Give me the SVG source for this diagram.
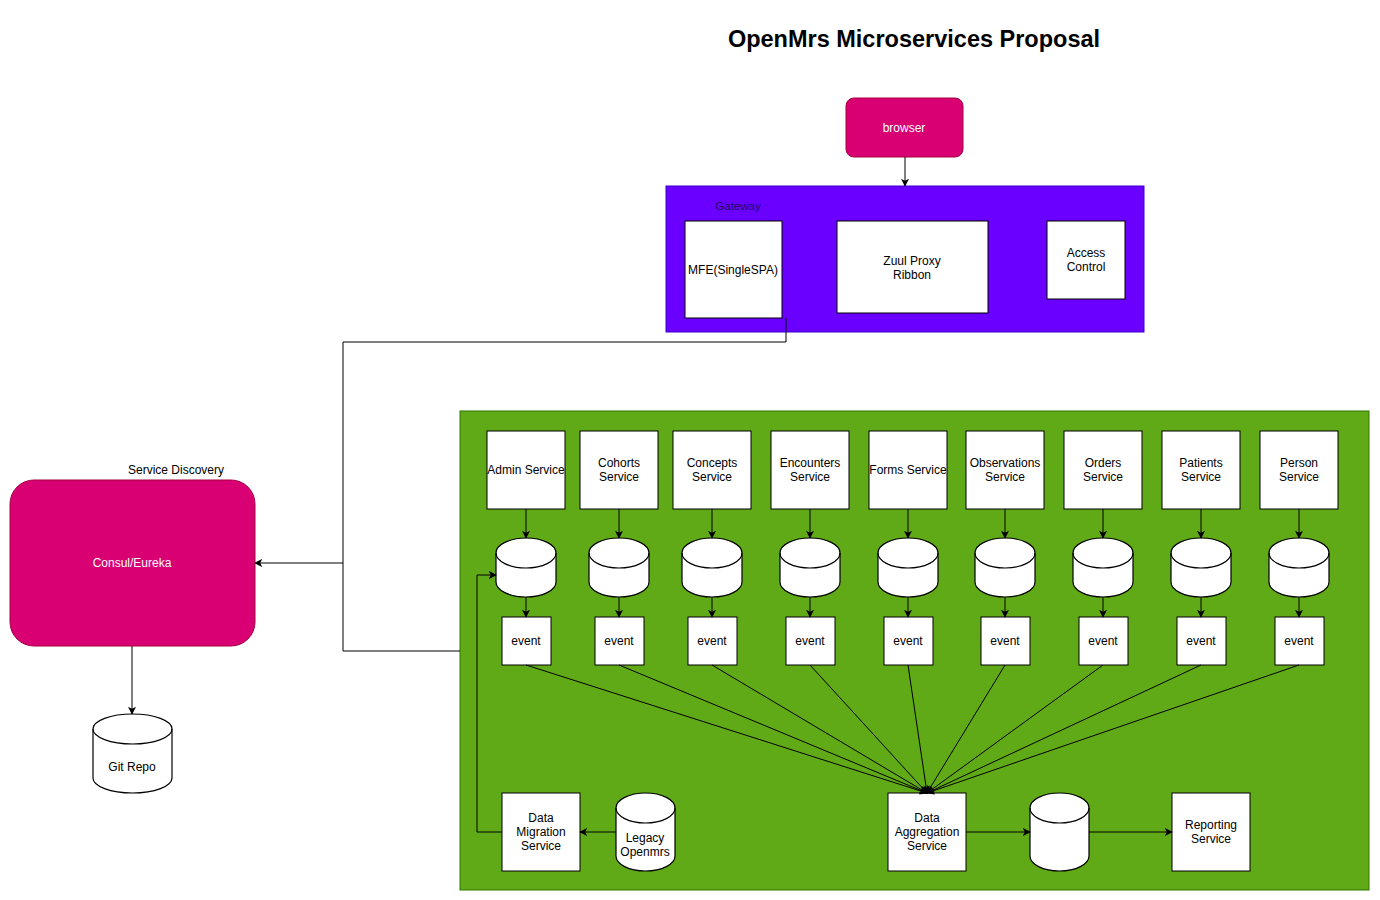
<svg xmlns="http://www.w3.org/2000/svg" width="1380" height="900" viewBox="0 0 1380 900">
<defs>
<marker id="arr" viewBox="0 0 10 10" refX="9" refY="5" markerWidth="8" markerHeight="8" markerUnits="userSpaceOnUse" orient="auto">
<path d="M0,0 L10,5 L0,10 L2.5,5 Z" fill="#000"/>
</marker>
<style>
text{font-family:"Liberation Sans",Arial,sans-serif;font-size:12px;fill:#000;text-anchor:middle;dominant-baseline:central}
.w{fill:#fff}
.box{fill:#fff;stroke:#000;stroke-width:1}
.cyl{fill:#fff;stroke:#000;stroke-width:1.2}
.arc{fill:none;stroke:#000;stroke-width:1.2}
.ln{fill:none;stroke:#000;stroke-width:1}
.la{fill:none;stroke:#000;stroke-width:1;marker-end:url(#arr)}
</style>
</defs>
<rect width="1380" height="900" fill="#fff"/>
<text x="914" y="39" style="font-size:23.5px;font-weight:bold">OpenMrs Microservices Proposal</text>

<g id="gateway">
<rect x="666" y="186" width="478" height="146" fill="#6a00ff" stroke="#3700cc"/>
<text x="738" y="206" style="font-size:11.5px;fill:#1c0c66">Gateway</text>
</g>
<g id="mfe"><rect class="box" x="685" y="221" width="97" height="97"/><text x="733" y="270">MFE(SingleSPA)</text></g>
<g id="zuul"><rect class="box" x="837" y="221" width="151" height="92"/><text x="912" y="261">Zuul Proxy</text><text x="912" y="275">Ribbon</text></g>
<g id="access"><rect class="box" x="1047" y="221" width="78" height="78"/><text x="1086" y="253">Access</text><text x="1086" y="267">Control</text></g>

<g id="browser"><rect x="846" y="98" width="117" height="59" rx="8" fill="#d80073" stroke="#a50040"/><text class="w" x="904" y="128">browser</text></g>

<g id="consul">
<text x="176" y="470">Service Discovery</text>
<rect x="10" y="480" width="245" height="166" rx="24" fill="#d80073" stroke="#a50040"/>
<text class="w" x="132" y="563">Consul/Eureka</text>
</g>
<g id="gitrepo">
<path class="cyl" d="M93,729 A39.5,15 0 0 1 172,729 V778 A39.5,15 0 0 1 93,778 Z"/>
<path class="arc" d="M93,729 A39.5,15 0 0 0 172,729"/>
<text x="132" y="767">Git Repo</text>
</g>

<g id="services-container">
<rect x="460" y="411" width="909" height="479" fill="#60a917" stroke="#2d7600"/>
</g>

<g id="service-nodes">
<g id="admin"><rect class="box" x="487" y="431" width="78" height="78"/><text x="526" y="470">Admin Service</text></g>
<g id="cohorts"><rect class="box" x="580" y="431" width="78" height="78"/><text x="619" y="463">Cohorts</text><text x="619" y="477">Service</text></g>
<g id="concepts"><rect class="box" x="673" y="431" width="78" height="78"/><text x="712" y="463">Concepts</text><text x="712" y="477">Service</text></g>
<g id="encounters"><rect class="box" x="771" y="431" width="78" height="78"/><text x="810" y="463">Encounters</text><text x="810" y="477">Service</text></g>
<g id="forms"><rect class="box" x="869" y="431" width="78" height="78"/><text x="908" y="470">Forms Service</text></g>
<g id="observations"><rect class="box" x="966" y="431" width="78" height="78"/><text x="1005" y="463">Observations</text><text x="1005" y="477">Service</text></g>
<g id="orders"><rect class="box" x="1064" y="431" width="78" height="78"/><text x="1103" y="463">Orders</text><text x="1103" y="477">Service</text></g>
<g id="patients"><rect class="box" x="1162" y="431" width="78" height="78"/><text x="1201" y="463">Patients</text><text x="1201" y="477">Service</text></g>
<g id="person"><rect class="box" x="1260" y="431" width="78" height="78"/><text x="1299" y="463">Person</text><text x="1299" y="477">Service</text></g>
</g>

<g id="db-nodes">
<g id="db-admin"><path class="cyl" d="M496,553 A30,15 0 0 1 556,553 V582 A30,15 0 0 1 496,582 Z"/><path class="arc" d="M496,553 A30,15 0 0 0 556,553"/></g>
<g id="db-cohorts"><path class="cyl" d="M589,553 A30,15 0 0 1 649,553 V582 A30,15 0 0 1 589,582 Z"/><path class="arc" d="M589,553 A30,15 0 0 0 649,553"/></g>
<g id="db-concepts"><path class="cyl" d="M682,553 A30,15 0 0 1 742,553 V582 A30,15 0 0 1 682,582 Z"/><path class="arc" d="M682,553 A30,15 0 0 0 742,553"/></g>
<g id="db-encounters"><path class="cyl" d="M780,553 A30,15 0 0 1 840,553 V582 A30,15 0 0 1 780,582 Z"/><path class="arc" d="M780,553 A30,15 0 0 0 840,553"/></g>
<g id="db-forms"><path class="cyl" d="M878,553 A30,15 0 0 1 938,553 V582 A30,15 0 0 1 878,582 Z"/><path class="arc" d="M878,553 A30,15 0 0 0 938,553"/></g>
<g id="db-observations"><path class="cyl" d="M975,553 A30,15 0 0 1 1035,553 V582 A30,15 0 0 1 975,582 Z"/><path class="arc" d="M975,553 A30,15 0 0 0 1035,553"/></g>
<g id="db-orders"><path class="cyl" d="M1073,553 A30,15 0 0 1 1133,553 V582 A30,15 0 0 1 1073,582 Z"/><path class="arc" d="M1073,553 A30,15 0 0 0 1133,553"/></g>
<g id="db-patients"><path class="cyl" d="M1171,553 A30,15 0 0 1 1231,553 V582 A30,15 0 0 1 1171,582 Z"/><path class="arc" d="M1171,553 A30,15 0 0 0 1231,553"/></g>
<g id="db-person"><path class="cyl" d="M1269,553 A30,15 0 0 1 1329,553 V582 A30,15 0 0 1 1269,582 Z"/><path class="arc" d="M1269,553 A30,15 0 0 0 1329,553"/></g>
</g>

<g id="event-nodes">
<g id="ev-admin"><rect class="box" x="502" y="617" width="49" height="48"/><text x="526" y="641">event</text></g>
<g id="ev-cohorts"><rect class="box" x="595" y="617" width="49" height="48"/><text x="619" y="641">event</text></g>
<g id="ev-concepts"><rect class="box" x="688" y="617" width="49" height="48"/><text x="712" y="641">event</text></g>
<g id="ev-encounters"><rect class="box" x="786" y="617" width="49" height="48"/><text x="810" y="641">event</text></g>
<g id="ev-forms"><rect class="box" x="884" y="617" width="49" height="48"/><text x="908" y="641">event</text></g>
<g id="ev-observations"><rect class="box" x="981" y="617" width="49" height="48"/><text x="1005" y="641">event</text></g>
<g id="ev-orders"><rect class="box" x="1079" y="617" width="49" height="48"/><text x="1103" y="641">event</text></g>
<g id="ev-patients"><rect class="box" x="1177" y="617" width="49" height="48"/><text x="1201" y="641">event</text></g>
<g id="ev-person"><rect class="box" x="1275" y="617" width="49" height="48"/><text x="1299" y="641">event</text></g>
</g>

<g id="migration"><rect class="box" x="502" y="793" width="78" height="78"/><text x="541" y="818">Data</text><text x="541" y="832">Migration</text><text x="541" y="846">Service</text></g>
<g id="legacy">
<path class="cyl" d="M616,808 A29.5,15 0 0 1 675,808 V856 A29.5,15 0 0 1 616,856 Z"/>
<path class="arc" d="M616,808 A29.5,15 0 0 0 675,808"/>
<text x="645" y="838">Legacy</text><text x="645" y="852">Openmrs</text>
</g>
<g id="aggregation"><rect class="box" x="888" y="793" width="78" height="78"/><text x="927" y="818">Data</text><text x="927" y="832">Aggregation</text><text x="927" y="846">Service</text></g>
<g id="report-db">
<path class="cyl" d="M1030,808 A29.5,15 0 0 1 1089,808 V856 A29.5,15 0 0 1 1030,856 Z"/>
<path class="arc" d="M1030,808 A29.5,15 0 0 0 1089,808"/>
</g>
<g id="reporting"><rect class="box" x="1172" y="793" width="78" height="78"/><text x="1211" y="825">Reporting</text><text x="1211" y="839">Service</text></g>

<g id="connectors">
<path class="la" d="M905,157 V186"/>
<path class="ln" d="M786,318 V342 H343 V651 H460"/>
<path class="la" d="M343,563 H255"/>
<path class="la" d="M132,646 V714"/>

<path class="la" d="M526,509 V538"/><path class="la" d="M619,509 V538"/><path class="la" d="M712,509 V538"/>
<path class="la" d="M810,509 V538"/><path class="la" d="M908,509 V538"/><path class="la" d="M1005,509 V538"/>
<path class="la" d="M1103,509 V538"/><path class="la" d="M1201,509 V538"/><path class="la" d="M1299,509 V538"/>

<path class="la" d="M526,597 V617"/><path class="la" d="M619,597 V617"/><path class="la" d="M712,597 V617"/>
<path class="la" d="M810,597 V617"/><path class="la" d="M908,597 V617"/><path class="la" d="M1005,597 V617"/>
<path class="la" d="M1103,597 V617"/><path class="la" d="M1201,597 V617"/><path class="la" d="M1299,597 V617"/>

<path class="la" d="M526,665 L927,793"/>
<path class="la" d="M619,665 L927,793"/>
<path class="la" d="M712,665 L927,793"/>
<path class="la" d="M810,665 L927,793"/>
<path class="la" d="M908,665 L927,793"/>
<path class="la" d="M1005,665 L927,793"/>
<path class="la" d="M1103,665 L927,793"/>
<path class="la" d="M1201,665 L927,793"/>
<path class="la" d="M1299,665 L927,793"/>

<path class="la" d="M616,832 H580"/>
<path class="la" d="M502,832 H477 V575 H496"/>
<path class="la" d="M966,832 H1030"/>
<path class="la" d="M1089,832 H1172"/>
</g>
</svg>
